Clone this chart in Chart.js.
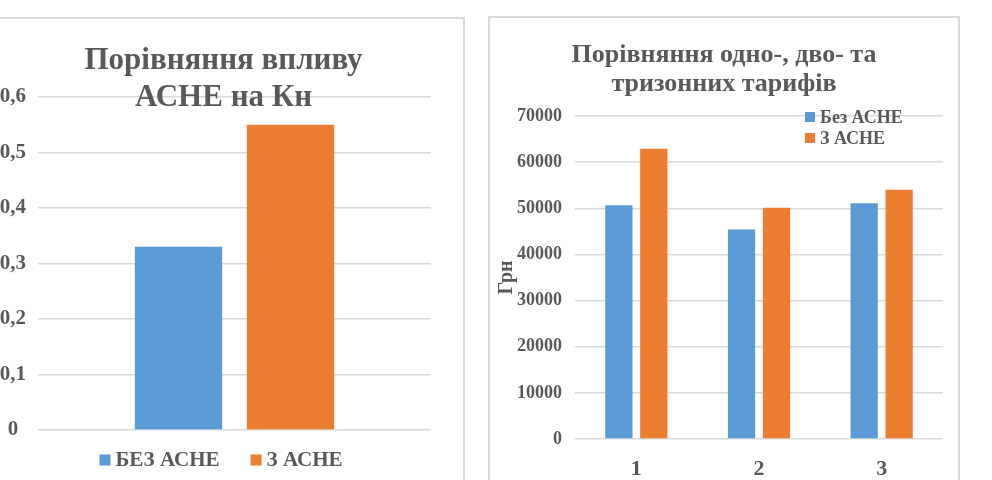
<!DOCTYPE html>
<html>
<head>
<meta charset="utf-8">
<script src="https://cdn.jsdelivr.net/npm/chart.js@4.4.0/dist/chart.umd.min.js"></script>
<style>
  html, body { margin: 0; padding: 0; background: #fff; width: 992px; height: 480px; overflow: hidden; }
  .box { position: absolute; box-sizing: border-box; border: 2px solid #d9d9d9; background: #fff; }
  #boxA { left: -18px; top: 17px; width: 483px; height: 470px; }
  #boxB { left: 488px; top: 16px; width: 472px; height: 476px; }
  .box canvas { display: block; }
</style>
</head>
<body>
<div class="box" id="boxA"><canvas id="chartA" width="479" height="466"></canvas></div>
<div class="box" id="boxB"><canvas id="chartB" width="468" height="472"></canvas></div>
<script>
  // --- data: left chart (Кн)
  const kCategories = [''];
  const kSeriesNames = ['БЕЗ АСНЕ', 'З АСНЕ'];
  const kWithout = [0.33];
  const kWith = [0.55];
  const kTitle = ['Порівняння впливу', 'АСНЕ на Кн'];

  // --- data: right chart (тарифи)
  const tCategories = ['1', '2', '3'];
  const tSeriesNames = ['Без АСНЕ', 'З АСНЕ'];
  const tWithout = [50650, 45400, 51100];
  const tWith = [62900, 50100, 54000];
  const tTitle = ['Порівняння одно-, дво- та', 'тризонних тарифів'];
  const tAxisTitle = 'Грн';

  const BLUE = '#5b9bd5';
  const ORANGE = '#ed7d31';
  const TEXT = '#595959';
  const GRID = '#d9d9d9';
  const FONT = '"Liberation Serif", "Times New Roman", serif';

  // titles and legends sit over the plot area, so draw them ourselves
  const overlayText = {
    id: 'overlayText',
    afterDraw(chart, args, opts) {
      const ctx = chart.ctx;
      ctx.save();
      ctx.fillStyle = TEXT;
      ctx.textBaseline = 'middle';
      ctx.textAlign = 'center';
      ctx.font = `bold ${opts.titleSize}px ${FONT}`;
      opts.title.forEach((line, i) => {
        ctx.fillText(line, opts.titleX, opts.titleY + i * opts.titleGap);
      });

      const lg = opts.legend;
      ctx.font = `bold ${lg.size}px ${FONT}`;
      ctx.textAlign = 'left';
      const items = chart.data.datasets.map(ds => ({
        label: ds.label,
        color: ds.backgroundColor,
        w: lg.box + lg.gap + ctx.measureText(ds.label).width
      }));
      let x = lg.x;
      let y = lg.y;
      if (lg.dir === 'row') {
        const total = items.reduce((s, it) => s + it.w, 0) + lg.spacing * (items.length - 1);
        x = lg.x - total / 2;
      }
      items.forEach(it => {
        ctx.fillStyle = it.color;
        ctx.fillRect(x, y - lg.box / 2, lg.box, lg.box);
        ctx.fillStyle = TEXT;
        ctx.fillText(it.label, x + lg.box + lg.gap, y + 1);
        if (lg.dir === 'row') {
          x += it.w + lg.spacing;
        } else {
          y += lg.rowGap;
        }
      });
      ctx.restore();
    }
  };

  function barSet(label, data, color) {
    return {
      label: label,
      data: data,
      backgroundColor: color,
      borderWidth: 0,
      categoryPercentage: 0.57,
      barPercentage: 0.78
    };
  }

  // left chart
  new Chart(document.getElementById('chartA'), {
    type: 'bar',
    data: {
      labels: kCategories,
      datasets: [
        barSet(kSeriesNames[0], kWithout, BLUE),
        barSet(kSeriesNames[1], kWith, ORANGE)
      ]
    },
    plugins: [overlayText],
    options: {
      responsive: false,
      animation: false,
      layout: { padding: { top: 78, right: 32, bottom: 55, left: 0 } },
      scales: {
        x: { display: false },
        y: {
          min: 0,
          max: 0.6,
          afterFit(scale) { scale.width = 54; },
          border: { display: false },
          grid: { color: GRID, lineWidth: 1.5, drawTicks: false },
          ticks: {
            stepSize: 0.1,
            padding: 12,
            crossAlign: 'center',
            color: TEXT,
            font: { family: FONT, size: 21, weight: 'bold' },
            callback: v => (v === 0 ? '0' : v.toFixed(1).replace('.', ','))
          }
        }
      },
      plugins: {
        legend: { display: false },
        tooltip: { enabled: false },
        overlayText: {
          title: kTitle,
          titleSize: 31,
          titleX: 239.5,
          titleY: 42,
          titleGap: 37,
          legend: { dir: 'row', x: 237, y: 441, box: 11, gap: 5, spacing: 31, size: 21 }
        }
      }
    }
  });

  // right chart
  new Chart(document.getElementById('chartB'), {
    type: 'bar',
    data: {
      labels: tCategories,
      datasets: [
        barSet(tSeriesNames[0], tWithout, BLUE),
        barSet(tSeriesNames[1], tWith, ORANGE)
      ]
    },
    plugins: [overlayText],
    options: {
      responsive: false,
      animation: false,
      layout: { padding: { top: 98, right: 15, bottom: 0, left: 0 } },
      scales: {
        x: {
          afterFit(scale) { scale.height = 51; },
          border: { display: false },
          grid: { display: false },
          ticks: {
            padding: 9,
            color: TEXT,
            font: { family: FONT, size: 22, weight: 'bold' }
          }
        },
        y: {
          min: 0,
          max: 70000,
          afterFit(scale) { scale.width = 85; },
          border: { display: false },
          grid: { color: GRID, lineWidth: 1.5, drawTicks: false },
          title: {
            display: true,
            text: tAxisTitle,
            color: TEXT,
            padding: { top: 5, bottom: 0 },
            font: { family: FONT, size: 20, weight: 'bold' }
          },
          ticks: {
            stepSize: 10000,
            padding: 13,
            color: TEXT,
            font: { family: FONT, size: 18, weight: 'bold' },
            callback: v => String(v)
          }
        }
      },
      plugins: {
        legend: { display: false },
        tooltip: { enabled: false },
        overlayText: {
          title: tTitle,
          titleSize: 26,
          titleX: 234,
          titleY: 37,
          titleGap: 29,
          legend: { dir: 'column', x: 315, y: 99, box: 10, gap: 5, rowGap: 21, size: 18 }
        }
      }
    }
  });
</script>
</body>
</html>
